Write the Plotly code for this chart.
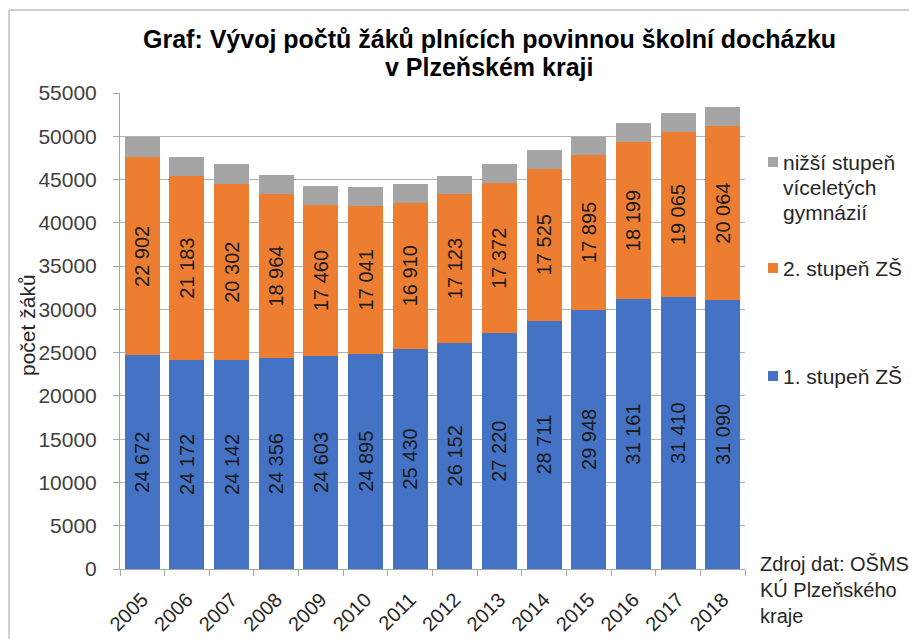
import plotly.graph_objects as go

years = ["2005", "2006", "2007", "2008", "2009", "2010", "2011", "2012", "2013", "2014", "2015", "2016", "2017", "2018"]
stupen1 = [24672, 24172, 24142, 24356, 24603, 24895, 25430, 26152, 27220, 28711, 29948, 31161, 31410, 31090]
stupen2 = [22902, 21183, 20302, 18964, 17460, 17041, 16910, 17123, 17372, 17525, 17895, 18199, 19065, 20064]
gymn = [2360, 2300, 2320, 2255, 2200, 2175, 2200, 2190, 2175, 2180, 2125, 2175, 2215, 2275]

name1 = "1. stupeň ZŠ"
name2 = "2. stupeň ZŠ"
name3_lines = ["nižší stupeň", "víceletých", "gymnázií"]
title_lines = ["Graf: Vývoj počtů žáků plnících povinnou školní docházku", "v Plzeňském kraji"]
source_lines = ["Zdroj dat: OŠMS", "KÚ Plzeňského", "kraje"]

C1, C2, C3 = "#4472C4", "#ED7D31", "#A5A5A5"
FONT = "Liberation Sans, Arial, sans-serif"

OFF = 8  # page body margin
W, H = 917 - OFF, 639 - OFF
L, R, T, B = 120, 745, 93, 569  # plot area in page pixels


def px(p):
    return (p - L) / (R - L)


def py(p):
    return (B - p) / (B - T)


def fmt(v):
    return f"{v:,}".replace(",", " ")


fig = go.Figure()
for vals, col, nm, lab in [(stupen1, C1, name1, True), (stupen2, C2, name2, True), (gymn, C3, " ".join(name3_lines), False)]:
    fig.add_trace(go.Bar(
        x=years, y=vals, name=nm, marker=dict(color=col, line=dict(width=0)),
        text=[fmt(v) for v in vals] if lab else None,
        textposition="inside" if lab else "none",
        textangle=-90, insidetextanchor="middle",
        insidetextfont=dict(family=FONT, size=20, color="#1a1a1a"),
        constraintext="none", showlegend=False,
    ))

fig.update_layout(
    width=W, height=H, barmode="stack", bargap=0.216,
    plot_bgcolor="white", paper_bgcolor="white",
    margin=dict(l=L - OFF, r=W - (R - OFF), t=T - OFF, b=H - (B - OFF), autoexpand=False),
    font=dict(family=FONT, color="#404040"),
    showlegend=False,
)
fig.update_yaxes(
    range=[0, 55000], dtick=5000, tickformat="d",
    showgrid=True, gridcolor="#B3B3B3", gridwidth=1,
    showline=True, linecolor="#A6A6A6", linewidth=1,
    ticks="outside", ticklen=6, tickcolor="#A6A6A6",
    tickfont=dict(size=21, color="#404040"), ticklabelstandoff=12,
    zeroline=False, automargin=False,
)
fig.update_xaxes(
    showline=True, linecolor="#A6A6A6", linewidth=1,
    ticks="outside", tickson="boundaries", ticklen=6, tickcolor="#A6A6A6",
    tickangle=-45, tickfont=dict(size=20, color="#262626"), ticklabelstandoff=10,
    automargin=False,
)

# outer chart border
fig.add_shape(type="rect", xref="paper", yref="paper",
              x0=px(9), x1=px(930), y0=py(660), y1=py(10),
              line=dict(color="#A0A0A0", width=1), fillcolor="rgba(0,0,0,0)", layer="below")

# title (two lines)
for txt, yc in zip(title_lines, [39, 67]):
    fig.add_annotation(xref="paper", yref="paper", x=px(489), y=py(yc), xanchor="center", yanchor="middle",
                       text=f"<b>{txt}</b>", showarrow=False,
                       font=dict(family=FONT, size=25, color="#000000"))

# y-axis title
fig.add_annotation(xref="paper", yref="paper", x=px(27), y=py(325), xanchor="center", yanchor="middle",
                   text="počet žáků", textangle=-90, showarrow=False,
                   font=dict(family=FONT, size=21, color="#262626"))

# legend (manual)
leg = [(name3_lines, C3, 162), ([name2], C2, 268), ([name1], C1, 376)]
for lines, col, yc in leg:
    fig.add_shape(type="rect", xref="paper", yref="paper",
                  x0=px(768), x1=px(778), y0=py(yc + 5), y1=py(yc - 5),
                  fillcolor=col, line=dict(width=0))
    for i, ln in enumerate(lines):
        fig.add_annotation(xref="paper", yref="paper", x=px(781), y=py(yc + 25 * i), xanchor="left", yanchor="middle",
                           text=ln, showarrow=False,
                           font=dict(family=FONT, size=21, color="#262626"))

# source note
for i, ln in enumerate(source_lines):
    fig.add_annotation(xref="paper", yref="paper", x=px(758), y=py(564 + 26 * i), xanchor="left", yanchor="middle",
                       text=ln, showarrow=False,
                       font=dict(family=FONT, size=20, color="#262626"))

fig.write_html("out.html")
